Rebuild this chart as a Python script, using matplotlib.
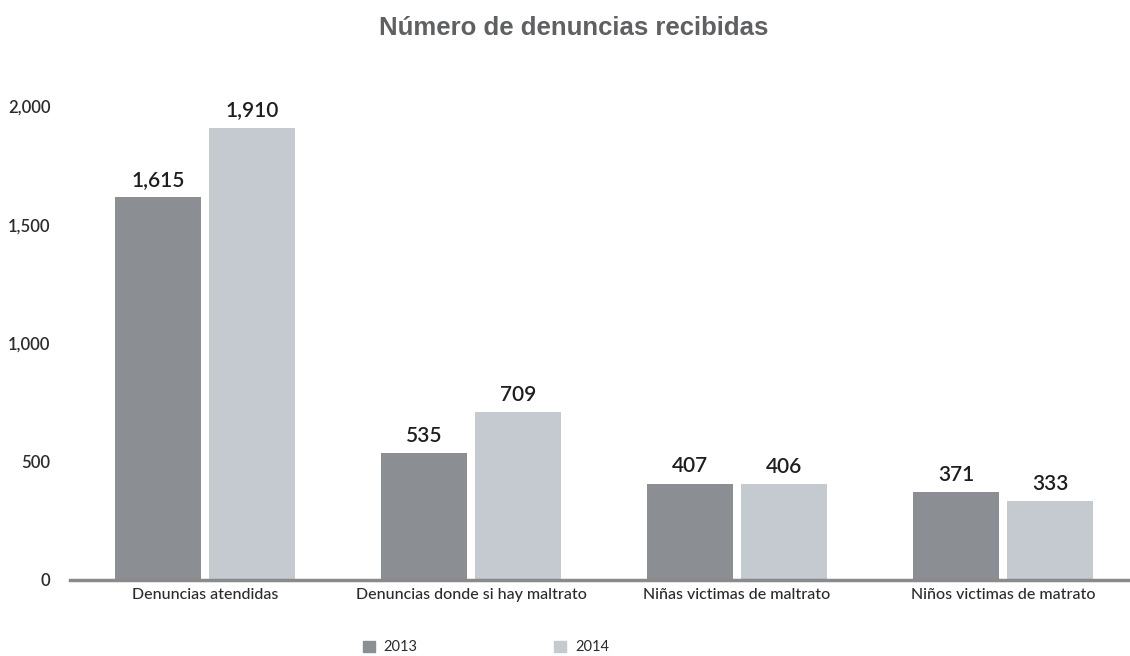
import matplotlib
matplotlib.use("Agg")
import matplotlib.pyplot as plt
import numpy as np
from matplotlib.patches import Patch

categories = ["Denuncias atendidas", "Denuncias donde si hay maltrato",
              "Niñas victimas de maltrato", "Niños victimas de matrato"]
series_names = ["2013", "2014"]
values_2013 = [1615, 535, 407, 371]
values_2014 = [1910, 709, 406, 333]
yticks = [0, 500, 1000, 1500, 2000]
ytick_labels = ["0", "500", "1,000", "1,500", "2,000"]

c13 = "#8b8e92"
c14 = "#c5c9d0"
txt = "#2b2b2b"

fig = plt.figure(figsize=(11.3, 6.56), dpi=100)
ax = fig.add_axes([0.062, 0.116, 0.938, 0.722])

x = np.arange(len(categories))
w = 0.323
off = 0.177
b1 = ax.bar(x - off, values_2013, w, color=c13)
b2 = ax.bar(x + off, values_2014, w, color=c14)

for bars, vals in ((b1, values_2013), (b2, values_2014)):
    for b, v in zip(bars, vals):
        ax.text(b.get_x() + b.get_width() / 2, v + 30, f"{v:,}",
                ha="center", va="bottom", fontsize=15, family="Lato",
                fontweight="semibold", color="#1e1e1e", clip_on=False)

ax.set_xlim(-0.507, 3.477)
ax.set_ylim(0, 2000)
ax.set_yticks(yticks)
ax.set_yticklabels(ytick_labels, family="Lato", fontsize=12, fontweight="semibold", color=txt)
ax.set_xticks(x)
ax.set_xticklabels(categories, family="Lato", fontsize=11.5, fontweight="medium", color=txt)
ax.tick_params(axis="y", length=0, pad=14)
ax.tick_params(axis="x", length=0, pad=6)
for s in ("top", "right", "left"):
    ax.spines[s].set_visible(False)
ax.spines["bottom"].set_color("#8a8a8a")
ax.spines["bottom"].set_linewidth(2.5)

fig.text(0.508, 0.958, "Número de denuncias recibidas", ha="center", va="center",
         fontsize=18.5, fontweight="bold", color="#5f6062", family="Liberation Sans")

handles = [Patch(color=c13, label=series_names[0]), Patch(color=c14, label=series_names[1])]
leg = fig.legend(handles=handles, loc="center", bbox_to_anchor=(0.43, 0.013), ncol=2,
                 frameon=False, handlelength=0.8, handleheight=0.8, handletextpad=0.6,
                 columnspacing=9.4, prop={"family": "Lato", "size": 10.5})
for t in leg.get_texts():
    t.set_color(txt)

fig.savefig("out.png", dpi=100)
